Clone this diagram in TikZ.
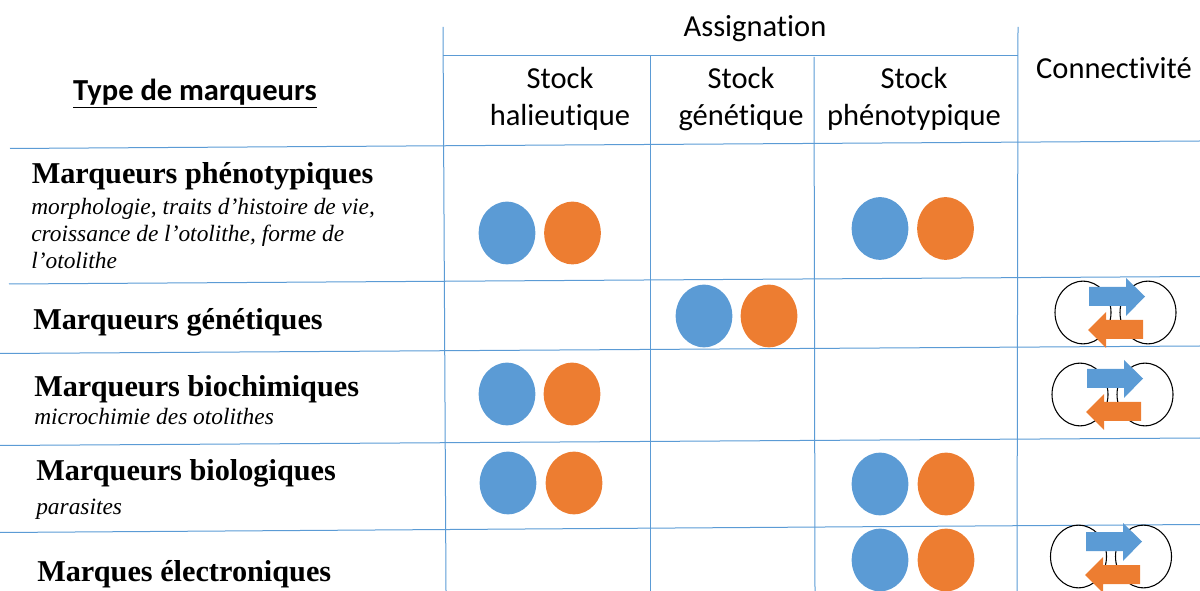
\documentclass[tikz,border=0pt]{standalone}
\usepackage{fontspec}
\setmainfont{Liberation Serif}
\newfontfamily\carl[Ligatures=NoCommon]{Carlito}
\usetikzlibrary{shapes.geometric}
\definecolor{mblue}{HTML}{5B9BD5}
\definecolor{morange}{HTML}{ED7D31}
\tikzset{
  rule/.style={draw=mblue,line width=0.75pt},
  dot/.style={ellipse,draw=none,minimum width=42.5pt,minimum height=47pt,inner sep=0pt},
  bluedot/.style={dot,fill=mblue},
  orangedot/.style={dot,fill=morange},
  head/.style={anchor=base,inner sep=0pt,font=\carl\fontsize{22.9pt}{26pt}\selectfont},
  title/.style={anchor=base west,inner sep=0pt,font=\bfseries\fontsize{22.7pt}{26pt}\selectfont},
  sub/.style={anchor=base west,inner sep=0pt,font=\itshape\fontsize{17.55pt}{20pt}\selectfont},
  lobe/.style={ellipse,draw=black,line width=0.8pt,fill=none,minimum width=42pt,minimum height=47pt,inner sep=0pt},
  pics/linklobes/.style={code={
    \node[lobe] (-l) at (1083,312.5) {};
    \node[lobe] (-r) at (1148,312.5) {};
  }},
  pics/linkarrows/.style={code={
    \fill[mblue] (1089,287) -- (1126,287) -- (1126,278) -- (1145,296.5) -- (1126,316) -- (1126,306) -- (1089,306) -- cycle;
    \fill[morange] (1143,320) -- (1106,320) -- (1106,312) -- (1088,330) -- (1106,348) -- (1106,339) -- (1143,339) -- cycle;
  }}
}
\begin{document}
\begin{tikzpicture}[x=0.75pt,y=-0.75pt]
\useasboundingbox (0,0) rectangle (1200,591);
\clip (0,0) rectangle (1200,591);
% rules
\draw[rule] (443,27) -- (446,591);
\draw[rule] (650,56) -- (650,591);
\draw[rule] (814,57) -- (815,591);
\draw[rule] (1018,27) -- (1017,591);
\draw[rule] (443,56) -- (1018,56);
\draw[rule] (10,148.5) -- (1200,141);
\draw[rule] (9,284) -- (1200,276.5);
\draw[rule] (0,353.5) -- (1200,346);
\draw[rule] (0,445.5) -- (1200,438);
\draw[rule] (0,532.5) -- (1200,524.5);
% headers
\node[head] (assign) at (755,37) {Assignation};
\node[head] (s1a) at (560,89) {Stock};
\node[head] (s1b) at (560,126) {halieutique};
\node[head] (s2a) at (741,89) {Stock};
\node[head] (s2b) at (741,126) {génétique};
\node[head] (s3a) at (914,89) {Stock};
\node[head] (s3b) at (914,126) {phénotypique};
\node[head] (conn) at (1114,79) {Connectivité};
\node[head,font=\carl\bfseries\fontsize{22.9pt}{26pt}\selectfont] (type) at (195,101) {\underline{Type de marqueurs}};
% row labels
\node[title] (m1) at (31.5,183.5) {Marqueurs phénotypiques};
\node[sub] (m1a) at (31,214.5) {morphologie, traits d’histoire de vie,};
\node[sub] (m1b) at (31,241.5) {croissance de l’otolithe, forme de};
\node[sub] (m1c) at (31,268.5) {l’otolithe};
\node[title] (m2) at (33,329.5) {Marqueurs génétiques};
\node[title] (m3) at (34,397) {Marqueurs biochimiques};
\node[sub] (m3a) at (34,425) {microchimie des otolithes};
\node[title] (m4) at (36,480) {Marqueurs biologiques};
\node[sub] (m4a) at (36,514) {parasites};
\node[title] (m5) at (37,581) {Marques électroniques};
% dots
\node[bluedot] (a1) at (507,233) {};
\node[orangedot] (b1) at (572.5,233) {};
\node[bluedot] (a2) at (880,228.5) {};
\node[orangedot] (b2) at (945.5,228.5) {};
\node[bluedot] (a3) at (704,316) {};
\node[orangedot] (b3) at (769,316) {};
\node[bluedot] (a4) at (507,394) {};
\node[orangedot] (b4) at (572,394) {};
\node[bluedot] (a5) at (508,483) {};
\node[orangedot] (b5) at (574,483) {};
\node[bluedot] (a6) at (880,484) {};
\node[orangedot] (b6) at (946,484) {};
\node[bluedot] (a7) at (880,560) {};
\node[orangedot] (b7) at (946,560) {};
% link icons
\pic (l1) at (0,0) {linklobes};
\pic (l2) at (-3,82) {linklobes};
\pic (l3) at (-4.5,244) {linklobes};
\pic (i1) at (0,0) {linkarrows};
\pic (i2) at (-2,82) {linkarrows};
\pic (i3) at (-3,245) {linkarrows};
\end{tikzpicture}
\end{document}
